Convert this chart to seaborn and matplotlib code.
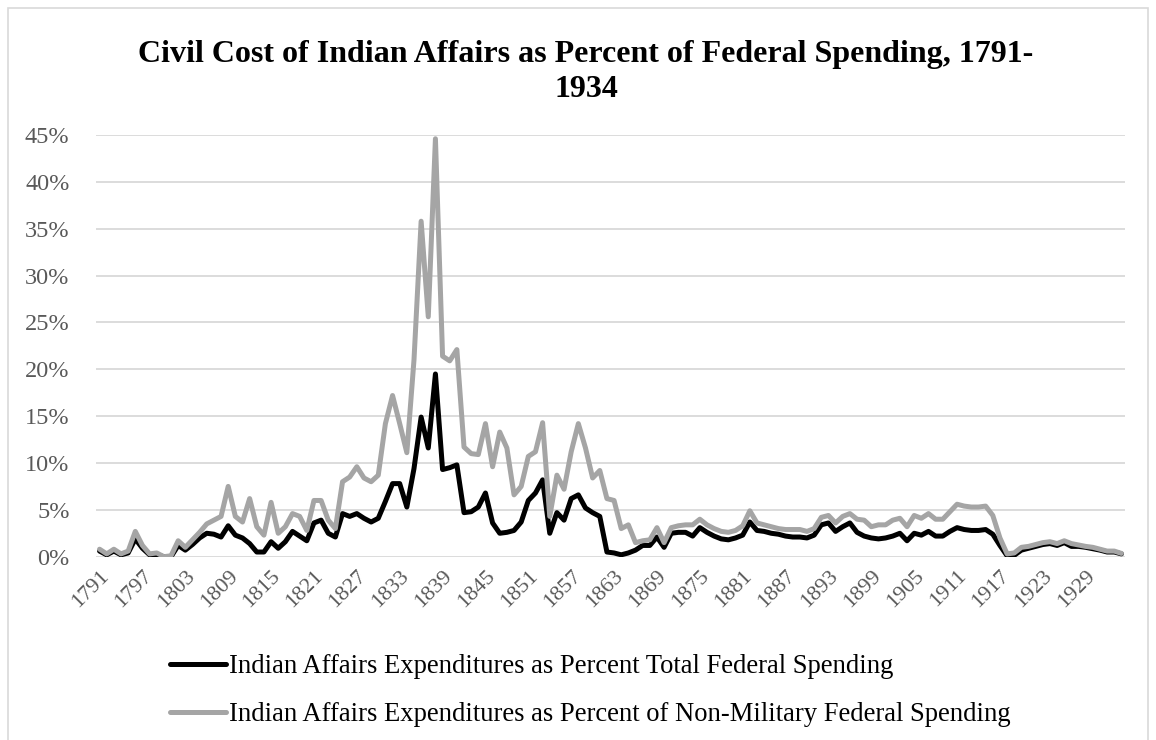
import matplotlib
matplotlib.use("Agg")
import matplotlib.pyplot as plt
import matplotlib.patches as mpatches
from matplotlib.ticker import PercentFormatter
import numpy as np
import pandas as pd
import seaborn as sns

# Fiscal years covered by the series
years = list(range(1791, 1935))

# Indian Affairs expenditures as % of total federal spending
pct_total = [
    0.6, 0.2, 0.6, 0.2, 0.4, 1.9, 0.9, 0.2, 0.2, 0.0,
    0.0, 1.2, 0.7, 1.3, 2.0, 2.5, 2.4, 2.1, 3.3, 2.3,
    2.0, 1.4, 0.5, 0.5, 1.6, 0.9, 1.6, 2.7, 2.2, 1.7,
    3.6, 3.9, 2.5, 2.1, 4.6, 4.3, 4.6, 4.1, 3.7, 4.1,
    5.9, 7.8, 7.8, 5.3, 9.4, 14.9, 11.6, 19.5, 9.3, 9.5,
    9.8, 4.7, 4.8, 5.3, 6.8, 3.6, 2.5, 2.6, 2.8, 3.7,
    6.0, 6.8, 8.2, 2.5, 4.7, 3.9, 6.2, 6.6, 5.2, 4.7,
    4.3, 0.5, 0.4, 0.2, 0.4, 0.7, 1.2, 1.2, 2.1, 1.0,
    2.5, 2.6, 2.6, 2.2, 3.1, 2.6, 2.2, 1.9, 1.8, 2.0,
    2.3, 3.7, 2.8, 2.7, 2.5, 2.4, 2.2, 2.1, 2.1, 2.0,
    2.3, 3.4, 3.6, 2.7, 3.2, 3.6, 2.6, 2.2, 2.0, 1.9,
    2.0, 2.2, 2.5, 1.7, 2.5, 2.3, 2.7, 2.2, 2.2, 2.7,
    3.1, 2.9, 2.8, 2.8, 2.9, 2.4, 1.2, 0.1, 0.15, 0.7,
    0.9, 1.1, 1.3, 1.4, 1.2, 1.5, 1.1, 1.1, 1.0, 0.85,
    0.7, 0.5, 0.5, 0.3,
]

# Indian Affairs expenditures as % of non-military federal spending
pct_nonmil = [
    0.8, 0.3, 0.8, 0.3, 0.6, 2.7, 1.2, 0.3, 0.4, 0.0,
    0.1, 1.7, 1.0, 1.8, 2.6, 3.5, 3.9, 4.3, 7.5, 4.3,
    3.7, 6.2, 3.2, 2.3, 5.8, 2.5, 3.2, 4.6, 4.3, 2.8,
    6.0, 6.0, 3.9, 3.0, 8.0, 8.5, 9.6, 8.4, 8.0, 8.7,
    14.2, 17.2, 14.2, 11.1, 21.0, 35.8, 25.6, 44.6, 21.4, 20.9,
    22.1, 11.7, 11.0, 10.9, 14.2, 9.6, 13.3, 11.6, 6.6, 7.5,
    10.7, 11.2, 14.3, 4.3, 8.7, 7.2, 11.2, 14.2, 11.6, 8.4,
    9.2, 6.2, 6.0, 3.0, 3.4, 1.5, 1.7, 1.8, 3.1, 1.5,
    3.1, 3.3, 3.4, 3.4, 4.0, 3.4, 3.0, 2.7, 2.6, 2.8,
    3.3, 4.9, 3.6, 3.4, 3.2, 3.0, 2.9, 2.9, 2.9, 2.7,
    3.0, 4.2, 4.4, 3.6, 4.3, 4.6, 4.0, 3.9, 3.2, 3.4,
    3.4, 3.9, 4.1, 3.2, 4.4, 4.1, 4.6, 4.0, 4.0, 4.8,
    5.6, 5.4, 5.3, 5.3, 5.4, 4.4, 2.0, 0.3, 0.4, 1.0,
    1.1, 1.3, 1.5, 1.6, 1.4, 1.7, 1.4, 1.25, 1.1, 1.0,
    0.8, 0.6, 0.6, 0.35,
]

label_total = "Indian Affairs Expenditures as Percent Total Federal Spending"
label_nonmil = "Indian Affairs Expenditures as Percent of Non-Military Federal Spending"
title_line1 = "Civil Cost of Indian Affairs as Percent of Federal Spending, 1791-"
title_line2 = "1934"

sns.set_theme(style="white")
plt.rcParams["font.family"] = ["Liberation Serif", "DejaVu Serif"]

df = pd.DataFrame({
    "pos": np.arange(len(years)),
    "total": pct_total,
    "nonmil": pct_nonmil,
})

W, H = 1156, 740
fig = plt.figure(figsize=(W / 100, H / 100), dpi=100)

# light chart border
fig.add_artist(mpatches.Rectangle((8 / W, -0.02), (1148 - 8) / W, 1.02 - 8 / H,
                                  transform=fig.transFigure, fill=False,
                                  edgecolor="#D9D9D9", linewidth=1.2))

ax = fig.add_axes([96 / W, 1 - 556.7 / H, (1125 - 96) / W, (556.7 - 135) / H])

sns.lineplot(data=df, x="pos", y="total", ax=ax, color="#000000", linewidth=3.6,
             label=label_total, solid_joinstyle="round", solid_capstyle="round")
sns.lineplot(data=df, x="pos", y="nonmil", ax=ax, color="#A5A5A5", linewidth=3.6,
             label=label_nonmil, solid_joinstyle="round", solid_capstyle="round")

ax.set_xlim(-0.5, len(years) - 0.5)
ax.set_ylim(0, 45)
ax.set_yticks(np.arange(0, 46, 5))
ax.yaxis.set_major_formatter(PercentFormatter(decimals=0))
tick_idx = list(range(0, len(years), 6))
ax.set_xticks(tick_idx)
ax.set_xticklabels([str(years[i]) for i in tick_idx], rotation=45,
                   ha="right", va="top", rotation_mode="anchor")
ax.set_xlabel("")
ax.set_ylabel("")

ax.grid(axis="y", color="#D9D9D9", linewidth=1.3)
ax.grid(axis="x", visible=False)
ax.set_axisbelow(True)
for s in ax.spines.values():
    s.set_visible(False)
ax.tick_params(axis="y", length=0, pad=19, labelsize=17.5, labelcolor="#595959")
ax.tick_params(axis="x", length=0, pad=7, labelsize=16, labelcolor="#595959")

fig.text(586 / W, 1 - 62 / H, title_line1, ha="center", va="baseline",
         fontsize=23, fontweight="bold", color="#000000")
fig.text(586 / W, 1 - 97 / H, title_line2, ha="center", va="baseline",
         fontsize=23, fontweight="bold", color="#000000")

ax.legend_.remove()
handles, labels = ax.get_legend_handles_labels()
fig.legend(handles, labels, loc="upper left",
           bbox_to_anchor=(170 / W, 1 - 654 / H), bbox_transform=fig.transFigure,
           frameon=False, fontsize=19.2, handlelength=2.1, handletextpad=0.12,
           labelspacing=0.87, borderpad=0, borderaxespad=0, labelcolor="#000000")

fig.savefig("out.png", dpi=100)
